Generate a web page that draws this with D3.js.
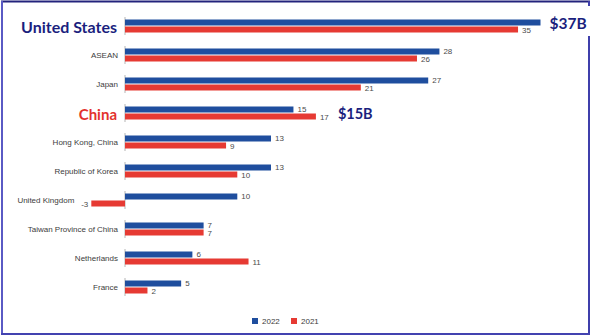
<!DOCTYPE html>
<html>
<head>
<meta charset="utf-8">
<script src="https://cdn.jsdelivr.net/npm/d3@7"></script>
<style>
  html, body { margin: 0; padding: 0; background: #fff; }
  svg { display: block; }
</style>
</head>
<body>
<svg id="chart" width="594" height="336"></svg>
<script>
// FDI inflows by economy, billions of US dollars
const categories = ["United States", "ASEAN", "Japan", "China", "Hong Kong, China",
  "Republic of Korea", "United Kingdom", "Taiwan Province of China", "Netherlands", "France"];
const values2022 = [37, 28, 27, 15, 13, 13, 10, 7, 6, 5];
const values2021 = [35, 26, 21, 17, 9, 10, -3, 7, 11, 2];
const seriesNames = ["2022", "2021"];
const highlight = { "United States": "#1b1f7e", "China": "#e3312d" };
const callouts = [
  { category: "United States", text: "$37B" },
  { category: "China", text: "$15B" }
];

const W = 594, H = 336;
const blue = "#1f4e9e", red = "#e63a33";
const svg = d3.select("#chart");

const x = d3.scaleLinear().domain([0, 37]).range([125, 540.5]);
const y = d3.scaleBand().domain(categories).range([11.5, 301.5]).padding(0);
const cy = c => y(c) + y.bandwidth() / 2;

// frame
const frame = svg.append("g");
frame.append("line").attr("x1", 1).attr("x2", 590).attr("y1", 1.5).attr("y2", 1.5)
  .attr("stroke", "#23237c").attr("stroke-width", 2);
frame.append("line").attr("x1", 2).attr("x2", 2).attr("y1", 1).attr("y2", 335)
  .attr("stroke", "#5a5ac4").attr("stroke-width", 2);
frame.append("line").attr("x1", 589).attr("x2", 589).attr("y1", 1).attr("y2", 335)
  .attr("stroke", "#3f3fab").attr("stroke-width", 2);
frame.append("line").attr("x1", 1).attr("x2", 590).attr("y1", 334).attr("y2", 334)
  .attr("stroke", "#4343b0").attr("stroke-width", 2);

const rows = categories.map((c, i) => ({ c, v22: values2022[i], v21: values2021[i] }));

const g = svg.append("g");

// zero axis segment per row
g.selectAll("line.zero").data(rows).join("line")
  .attr("class", "zero")
  .attr("x1", x(0)).attr("x2", x(0))
  .attr("y1", d => cy(d.c) - 9).attr("y2", d => cy(d.c) + 9)
  .attr("stroke", "#b5b5b5").attr("stroke-width", 1);

// 2022 bars
g.selectAll("rect.b22").data(rows).join("rect")
  .attr("class", "b22")
  .attr("x", d => Math.min(x(0), x(d.v22)))
  .attr("width", d => Math.abs(x(d.v22) - x(0)))
  .attr("y", d => cy(d.c) - 6.5).attr("height", 6)
  .attr("fill", blue);

// 2021 bars
g.selectAll("rect.b21").data(rows).join("rect")
  .attr("class", "b21")
  .attr("x", d => Math.min(x(0), x(d.v21)))
  .attr("width", d => Math.abs(x(d.v21) - x(0)))
  .attr("y", d => cy(d.c) + 0.5).attr("height", 6)
  .attr("fill", red);

const labelFont = "Liberation Sans, Arial, sans-serif";

// value labels
function valueLabel(d, v, dy) {
  const neg = v < 0;
  return {
    x: neg ? x(v) - 3 : x(v) + 4,
    y: cy(d.c) + dy,
    anchor: neg ? "end" : "start",
    text: String(v)
  };
}
const valLabels = [];
rows.forEach(d => {
  if (d.c !== "United States") valLabels.push(valueLabel(d, d.v22, -4));
  valLabels.push(valueLabel(d, d.v21, 4.5));
});
g.selectAll("text.val").data(valLabels).join("text")
  .attr("class", "val")
  .attr("x", d => d.x).attr("y", d => d.y)
  .attr("text-anchor", d => d.anchor)
  .attr("dominant-baseline", "central")
  .attr("font-family", labelFont).attr("font-size", 8)
  .attr("fill", "#4a4a4a")
  .text(d => d.text);

// category labels
const catG = g.selectAll("text.cat").data(rows).join("text")
  .attr("class", "cat")
  .attr("y", d => cy(d.c))
  .attr("text-anchor", "end")
  .attr("dominant-baseline", "central")
  .attr("font-family", d => highlight[d.c] ? "Lato, 'Open Sans', sans-serif" : labelFont)
  .attr("font-weight", d => highlight[d.c] ? 700 : 400)
  .attr("font-size", d => d.c === "United States" ? 16 : d.c === "China" ? 15 : 8)
  .attr("fill", d => highlight[d.c] || "#3c3c3c")
  .text(d => d.c);

catG.attr("x", d => {
  const minV = Math.min(d.v22, d.v21, 0);
  if (minV < 0) {
    // leave room for the negative bar and its label
    return x(minV) - 3 - 8 - 6;
  }
  return x(0) - (highlight[d.c] ? 8 : 7);
});
catG.filter(d => highlight[d.c]).attr("dy", "0.05em");

// callout labels
const navy = "#1b1f7e";
callouts.forEach(co => {
  const i = categories.indexOf(co.category);
  const isTop = co.category === "United States";
  const lx = isTop ? x(values2022[i]) + 9 : x(Math.max(values2022[i], values2021[i])) + 22;
  const ly = isTop ? cy(co.category) - 3 : cy(co.category);
  const cg = svg.append("g");
  const bg = cg.append("rect").attr("fill", "#fff");
  const t = cg.append("text")
    .attr("x", lx).attr("y", ly)
    .attr("dominant-baseline", "central")
    .attr("font-family", "Lato, 'Open Sans', sans-serif")
    .attr("font-weight", 700)
    .attr("font-size", isTop ? 15.5 : 14.5)
    .attr("fill", navy)
    .text(co.text);
  if (isTop) {
    // white backing so the label sits over the frame edge
    const bb = t.node().getBBox();
    bg.attr("x", bb.x - 2).attr("y", 6)
      .attr("width", W - bb.x + 2).attr("height", 30);
  } else {
    bg.remove();
  }
});

// legend
const legend = svg.append("g").attr("transform", "translate(252,321)");
const legendItems = seriesNames.map((n, i) => ({ n, color: i === 0 ? blue : red, dx: i * 39 }));
legend.selectAll("rect").data(legendItems).join("rect")
  .attr("x", d => d.dx).attr("y", -3).attr("width", 6).attr("height", 6)
  .attr("fill", d => d.color);
legend.selectAll("text").data(legendItems).join("text")
  .attr("x", d => d.dx + 10).attr("y", 0)
  .attr("dominant-baseline", "central")
  .attr("font-family", labelFont).attr("font-size", 8)
  .attr("fill", "#3c3c3c")
  .text(d => d.n);
</script>
</body>
</html>
